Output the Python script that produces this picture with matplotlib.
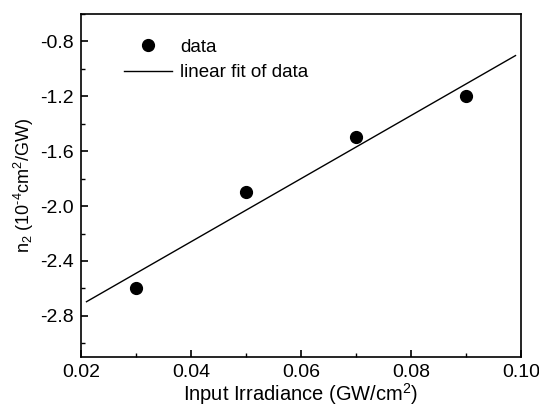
import numpy as np
import matplotlib.pyplot as plt
from matplotlib.ticker import MultipleLocator

irradiance = [0.03, 0.05, 0.07, 0.09]
n2 = [-2.6, -1.9, -1.5, -1.2]
fit_range = [0.021, 0.099]

plt.rcParams['font.family'] = ['Liberation Sans', 'DejaVu Sans']
plt.rcParams['mathtext.fontset'] = 'custom'
plt.rcParams['mathtext.rm'] = 'Liberation Sans'
plt.rcParams['mathtext.it'] = 'Liberation Sans:italic'
plt.rcParams['mathtext.default'] = 'regular'

slope, intercept = np.polyfit(irradiance, n2, 1)
xf = np.array(fit_range)

fig = plt.figure(figsize=(5.39, 4.07), dpi=100)
ax = fig.add_axes([81 / 539, 50 / 407, 440 / 539, 343 / 407])

ax.plot(irradiance, n2, 'o', color='black', markersize=8.5, label='data')
ax.plot(xf, slope * xf + intercept, '-', color='black', linewidth=1, label='linear fit of data')

ax.set_xlim(0.02, 0.10)
ax.set_ylim(-3.1, -0.6)
ax.xaxis.set_major_locator(MultipleLocator(0.02))
ax.xaxis.set_minor_locator(MultipleLocator(0.01))
ax.yaxis.set_major_locator(MultipleLocator(0.4))
ax.yaxis.set_minor_locator(MultipleLocator(0.2))
ax.set_xticklabels([f'{v:.2f}' for v in ax.get_xticks()])
ax.set_yticklabels([f'{v:.1f}' for v in ax.get_yticks()])
ax.tick_params(which='both', direction='in', labelsize=14)
ax.tick_params(which='major', length=5, width=1.2, pad=5)
ax.tick_params(which='minor', length=3, width=1)
for s in ax.spines.values():
    s.set_linewidth(1.2)

ax.set_xlabel('Input Irradiance (GW/cm$^2$)', fontsize=14.5, labelpad=0)
ax.set_ylabel('n$_2$ (10$^{\u2010' + '4}$cm$^2$/GW)', fontsize=13, labelpad=3)

ax.legend(loc='upper left', frameon=False, fontsize=13.5, bbox_to_anchor=(0.08, 0.95),
          handlelength=2.6, handletextpad=0.4, labelspacing=0.45, borderaxespad=0)

plt.savefig('out.png')
plt.close()
